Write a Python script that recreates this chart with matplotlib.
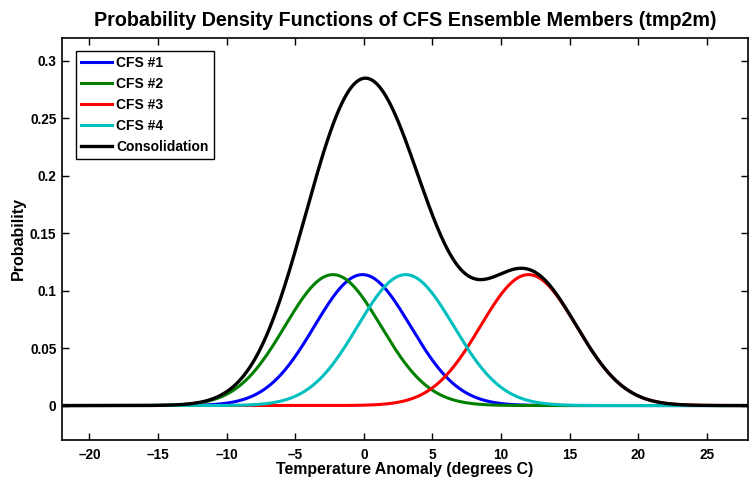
import numpy as np
from matplotlib import pyplot as plt

plt.rcParams['font.family'] = ['Liberation Sans', 'DejaVu Sans']
plt.rcParams['font.weight'] = 'bold'

# ensemble member distributions
members = ['CFS #1', 'CFS #2', 'CFS #3', 'CFS #4']
means = [-0.1, -2.25, 12.0, 3.05]
spreads = [3.5, 3.5, 3.5, 3.5]
colors = ['#0000ff', '#008000', '#ff0000', '#00bfbf']
xticks = [-20, -15, -10, -5, 0, 5, 10, 15, 20, 25]
yticks = [0, 0.05, 0.1, 0.15, 0.2, 0.25, 0.3]

x = np.linspace(-22, 28, 1001)

fig = plt.figure(figsize=(7.53, 4.78), dpi=100)
ax = fig.add_axes([0.0823, 0.0795, 0.9111, 0.841])

total = np.zeros_like(x)
for name, m, s, c in zip(members, means, spreads, colors):
    pdf = np.exp(-0.5 * ((x - m) / s) ** 2) / (s * np.sqrt(2 * np.pi))
    total += pdf
    ax.plot(x, pdf, color=c, lw=2.2, label=name)
ax.plot(x, total, color='k', lw=2.4, label='Consolidation')

ax.set_xlim(-22, 28)
ax.set_ylim(-0.03, 0.32)
ax.set_xticks(xticks)
ax.set_yticks(yticks)
ax.set_yticklabels(['0', '0.05', '0.1', '0.15', '0.2', '0.25', '0.3'])
ax.set_xticklabels([str(t).replace('-', '\u2013') for t in xticks])
ax.tick_params(direction='in', top=True, right=True, length=5, width=1,
               labelsize=9.8)
ax.tick_params(axis='x', pad=6)
ax.tick_params(axis='y', pad=4)
for sp in ax.spines.values():
    sp.set_linewidth(1.2)

ax.set_xlabel('Temperature Anomaly (degrees C)', fontsize=11.4, fontweight='bold', labelpad=0)
ax.set_ylabel('Probability', fontsize=11.5, fontweight='bold', labelpad=3)
ax.set_title('Probability Density Functions of CFS Ensemble Members (tmp2m)',
             fontsize=14.2, fontweight='bold', pad=9)

leg = ax.legend(loc='upper left', bbox_to_anchor=(0.02, 0.968), fontsize=10,
                fancybox=False, edgecolor='k', framealpha=1, handlelength=2.25,
                handletextpad=0.3, labelspacing=0.5, borderpad=0.38,
                borderaxespad=0)
leg.get_frame().set_linewidth(1.0)

fig.savefig('out.png', dpi=100)
